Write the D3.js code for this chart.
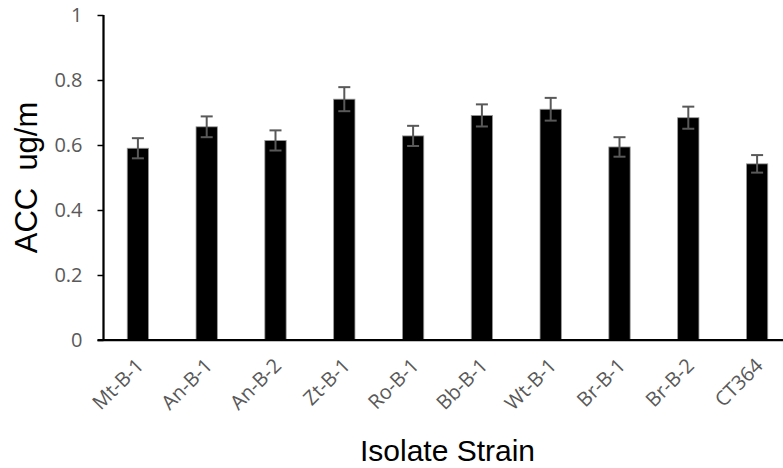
<!DOCTYPE html>
<html>
<head>
<meta charset="utf-8">
<script src="https://cdn.jsdelivr.net/npm/d3@7"></script>
<style>
  html, body { margin: 0; padding: 0; background: #fff; }
  svg { display: block; }
</style>
</head>
<body>
<svg id="chart" width="783" height="468"></svg>
<script>
// Isolate strains and their ACC readings (mean with standard error)
const strains = ["Mt-B-1", "An-B-1", "An-B-2", "Zt-B-1", "Ro-B-1", "Bb-B-1", "Wt-B-1", "Br-B-1", "Br-B-2", "CT364"];
const accValues = [0.590, 0.656, 0.614, 0.741, 0.628, 0.691, 0.710, 0.594, 0.684, 0.542];
const accErrors = [0.031, 0.032, 0.031, 0.037, 0.031, 0.034, 0.035, 0.030, 0.034, 0.027];
const yTicks = [0, 0.2, 0.4, 0.6, 0.8, 1];

const svg = d3.select("#chart");
const plotLeft = 103.5, plotRight = 791.5, plotTop = 15, plotBottom = 340;

const x = d3.scaleBand().domain(strains).range([plotLeft, plotRight]).paddingInner(0.69).paddingOuter(0.345);
const y = d3.scaleLinear().domain([0, 1]).range([plotBottom, plotTop]);

const tickFont = "'Open Sans', sans-serif";
const tickColor = "#595959";

// y axis
const yAxis = svg.append("g")
  .attr("transform", `translate(${plotLeft},0)`)
  .call(d3.axisLeft(y).tickValues(yTicks).tickSize(6).tickPadding(15)
    .tickFormat(d => String(+d.toFixed(1))));
yAxis.select(".domain").remove();
yAxis.selectAll(".tick line").attr("stroke", "#000").attr("stroke-width", 1.5);
yAxis.selectAll(".tick text")
  .attr("fill", tickColor).attr("font-family", tickFont).attr("font-size", 20);

// bars
const data = strains.map((s, i) => ({ s, v: accValues[i], e: accErrors[i] }));
svg.append("g").selectAll("rect").data(data).join("rect")
  .attr("x", d => x(d.s))
  .attr("width", x.bandwidth())
  .attr("y", d => y(d.v))
  .attr("height", d => y(0) - y(d.v))
  .attr("fill", "#000")
  .attr("stroke", "#9a9a9a")
  .attr("stroke-width", 0.8);

// error bars
const eb = svg.append("g").attr("stroke", "#595959").attr("stroke-width", 2);
const cx = d => x(d.s) + x.bandwidth() / 2;
eb.selectAll("line.v").data(data).join("line").attr("class", "v")
  .attr("x1", cx).attr("x2", cx)
  .attr("y1", d => y(d.v + d.e)).attr("y2", d => y(d.v - d.e));
eb.selectAll("line.t").data(data).join("line").attr("class", "t")
  .attr("x1", d => cx(d) - 6).attr("x2", d => cx(d) + 6)
  .attr("y1", d => y(d.v + d.e)).attr("y2", d => y(d.v + d.e));
eb.selectAll("line.b").data(data).join("line").attr("class", "b")
  .attr("x1", d => cx(d) - 6).attr("x2", d => cx(d) + 6)
  .attr("y1", d => y(d.v - d.e)).attr("y2", d => y(d.v - d.e));

// axis lines
svg.append("line").attr("x1", plotLeft).attr("x2", plotLeft).attr("y1", plotTop).attr("y2", plotBottom)
  .attr("stroke", "#000").attr("stroke-width", 2.25);
svg.append("line").attr("x1", plotLeft - 6).attr("x2", plotRight).attr("y1", plotBottom).attr("y2", plotBottom)
  .attr("stroke", "#000").attr("stroke-width", 2.25);

// category labels, rotated
svg.append("g").selectAll("text").data(strains).join("text")
  .attr("transform", d => `translate(${x(d) + x.bandwidth() / 2 + 7},${plotBottom + 27}) rotate(-45)`)
  .attr("text-anchor", "end")
  .attr("fill", tickColor)
  .attr("font-family", tickFont)
  .attr("font-size", 20)
  .text(d => d);

// axis titles
svg.append("text")
  .attr("transform", `translate(37,${(plotTop + plotBottom) / 2}) rotate(-90)`)
  .attr("text-anchor", "middle")
  .attr("font-family", "'Liberation Sans', Arial, sans-serif")
  .attr("font-size", 31)
  .attr("fill", "#000")
  .style("white-space", "pre")
  .text("ACC  ug/m");

svg.append("text")
  .attr("x", (plotLeft + plotRight) / 2)
  .attr("y", 461)
  .attr("text-anchor", "middle")
  .attr("font-family", "'Liberation Sans', Arial, sans-serif")
  .attr("font-size", 30)
  .attr("fill", "#000")
  .text("Isolate Strain");
</script>
</body>
</html>
